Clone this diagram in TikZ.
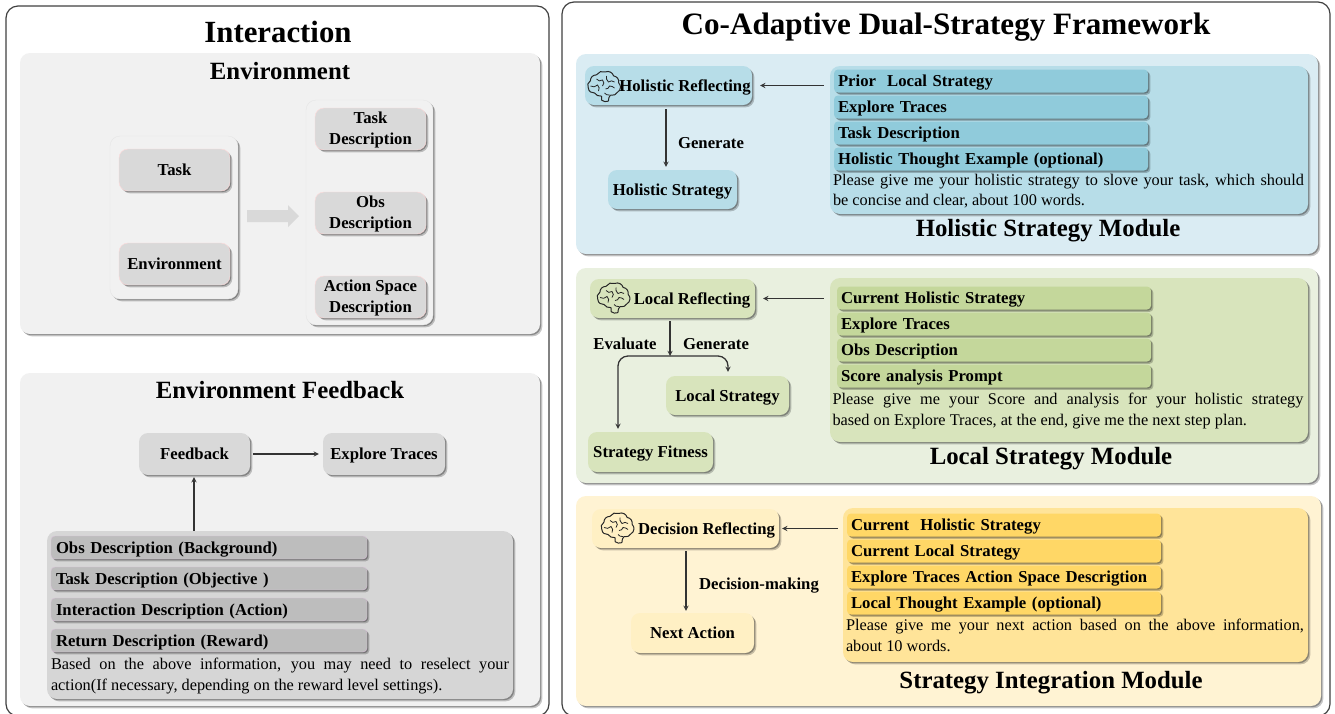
\documentclass[tikz,border=0pt]{standalone}
\usepackage{fontspec}
\setmainfont{Liberation Serif}
\usetikzlibrary{shadows}
\definecolor{graypanel}{HTML}{F1F1F1}
\definecolor{graycard}{HTML}{D9D9D9}
\definecolor{graybox}{HTML}{D6D6D6}
\definecolor{graybar}{HTML}{BDBDBD}
\definecolor{bluepanel}{HTML}{DAECF3}
\definecolor{bluebox}{HTML}{B7DDE8}
\definecolor{bluebar}{HTML}{90CBDB}
\definecolor{greenpanel}{HTML}{E9F0DF}
\definecolor{greenbox}{HTML}{D8E4BC}
\definecolor{greenbar}{HTML}{C4D79B}
\definecolor{yellowpanel}{HTML}{FFF3D3}
\definecolor{yellowbox}{HTML}{FFE499}
\definecolor{yellowbar}{HTML}{FFD766}
\definecolor{yellowcard}{HTML}{FFF0C4}
\begin{document}
\begin{tikzpicture}[
    x=1pt, y=-1pt,
    outer/.style={rectangle, draw=black!75, line width=1.2pt, fill=white, rounded corners=12pt},
    softshadow/.style={
        drop shadow={shadow xshift=2.4pt, shadow yshift=-2.4pt, opacity=0.22, fill=black},
        drop shadow={shadow xshift=1.2pt, shadow yshift=-1.2pt, opacity=0.3, fill=black}},
    panel/.style={rectangle, fill=#1, rounded corners=10pt, softshadow, inner sep=0pt},
    card/.style={rectangle, fill=#1, rounded corners=9pt, softshadow, inner sep=0pt, text depth=0pt, align=center, font=\fontsize{16.7}{21}\selectfont\bfseries},
    bar/.style={rectangle, fill=#1, rounded corners=4pt, softshadow, inner sep=0pt, minimum width=314pt, minimum height=23pt, text width=306pt, text height=13pt, text depth=1.5pt, align=left, font=\fontsize{16.7}{20}\selectfont\bfseries},
    bodytext/.style={inner sep=0pt, align=justify, font=\fontsize{16.3}{20.7}\selectfont},
    heading/.style={inner sep=0pt, text depth=0pt, font=\fontsize{#1}{#1}\selectfont\bfseries},
    edgelabel/.style={inner sep=0pt, text depth=0pt, font=\fontsize{16.7}{20}\selectfont\bfseries},
    arr/.style={->, >=stealth, line width=1.3pt, draw=black!80}
]
    \useasboundingbox (0,0) rectangle (1335,713);
    \tikzset{brainicon/.pic={
        \draw[line width=1pt, black!85, rounded corners=0.5pt]
            (-9,6) to[bend left=50] (-15,1) to[bend left=50] (-13,-6) to[bend left=50] (-7,-12)
            to[bend left=40] (2,-15) to[bend left=50] (10,-11) to[bend left=50] (15,-4)
            to[bend left=60] (14,5) to[bend left=40] (7,8) to[bend right=20] (5,14)
            to[bend left=30] (-2,13) to[bend right=10] (-2,9) to[bend left=30] (-9,6);
        \draw[line width=0.8pt, black!85] (-13,-1) to[bend right=40] (-6,-2) to[bend left=40] (-5,4);
        \draw[line width=0.8pt, black!85] (-7,-8) to[bend right=50] (-1,-7) to[bend left=50] (-1,-1);
        \draw[line width=0.8pt, black!85] (3,-11) to[bend right=30] (5,-5) to[bend left=40] (11,-5);
        \draw[line width=0.8pt, black!85] (2,2) to[bend right=40] (6,-1) to[bend left=20] (11,1);
        \draw[line width=0.8pt, black!85] (1,6) to[bend right=30] (6,8);
    }}

    % Outer frames
    \node[outer, minimum width=543pt, minimum height=710pt] (interframe) at (277.5,361) {};
    \node[outer, minimum width=768pt, minimum height=714pt] (frameframe) at (946,359) {};
    \node[heading=30.8] (intertitle) at (278,32) {Interaction};
    \node[heading=31.1] (frametitle) at (946,24) {Co-Adaptive Dual-Strategy Framework};

    % Environment
    \node[panel=graypanel, minimum width=520pt, minimum height=281pt] (envpanel) at (280,193.5) {};
    \node[heading=24.8] (envtitle) at (280,71) {Environment};
    \node[panel=graypanel, draw=black!10, minimum width=128pt, minimum height=163pt] (envleft) at (174,217.5) {};
    \node[panel=graypanel, draw=black!10, minimum width=127pt, minimum height=225pt] (envright) at (369.5,212.5) {};
    \node[card=graycard, draw=red!15, minimum width=111pt, minimum height=42pt] (task) at (174.5,170) {Task};
    \node[card=graycard, draw=red!15, minimum width=111pt, minimum height=42pt] (environment) at (174.5,264) {Environment};
    \node[card=graycard, draw=red!15, text depth=2pt, minimum width=111pt, minimum height=42pt] (taskdesc) at (370.5,129) {Task\\Description};
    \node[card=graycard, draw=red!15, text depth=2pt, minimum width=111pt, minimum height=42pt] (obsdesc) at (370.5,213) {Obs\\Description};
    \node[card=graycard, draw=red!15, text depth=2pt, minimum width=111pt, minimum height=42pt] (actiondesc) at (370.5,297) {Action Space\\Description};
    \fill[graycard] (247,210) -- (288,210) -- (288,205) -- (299,216) -- (288,227) -- (288,222) -- (247,222) -- cycle;

    % Environment feedback
    \node[panel=graypanel, minimum width=520pt, minimum height=333pt] (fbpanel) at (280,539.5) {};
    \node[heading=24.8] (fbtitle) at (280,390) {Environment Feedback};
    \node[card=graycard, minimum width=111pt, minimum height=42pt] (feedback) at (194.5,454) {Feedback};
    \node[card=graycard, minimum width=122pt, minimum height=42pt] (fbtraces) at (384,454) {Explore Traces};
    \node[panel=graybox, minimum width=466pt, minimum height=168pt] (fbbox) at (280,615) {};
    \node[bar=graybar, draw=black!25!violet!25, minimum width=316pt] (fbobs) at (209,547.5) {Obs Description (Background)};
    \node[bar=graybar, draw=black!25!violet!25, minimum width=316pt] (fbgoal) at (209,578.5) {Task Description (Objective )};
    \node[bar=graybar, draw=black!25!violet!25, minimum width=316pt] (fbact) at (209,609.5) {Interaction Description (Action)};
    \node[bar=graybar, draw=black!25!violet!25, minimum width=316pt] (fbret) at (209,640.5) {Return Description (Reward)};
    \node[bodytext, text width=458pt] (fbtext) at (280,676) {Based on the above information, you may need to reselect your\linebreak action(If necessary, depending on the reward level settings).};
    \draw[arr, shorten >=2pt] ([xshift=-86pt]fbbox.north) -- ([xshift=-0.5pt]feedback.south);
    \draw[arr, shorten <=3pt, shorten >=4pt] (feedback) -- (fbtraces);

    % Holistic strategy module
    \node[panel=bluepanel, minimum width=742pt, minimum height=200pt] (holpanel) at (947,154) {};
    \node[panel=bluebox, minimum width=478pt, minimum height=148pt] (holbox) at (1069,140) {};
    \node[card=bluebox, minimum width=167pt, minimum height=39pt] (holreflect) at (668.5,85.5) {\hspace*{33pt}Holistic Reflecting};
    \node[card=bluebox, minimum width=129pt, minimum height=39pt] (holstrategy) at (672.5,189.5) {Holistic Strategy};
    \pic at (603.5,87) {brainicon};
    \node[bar=bluebar] (holprior) at (991,81) {Prior~~Local Strategy};
    \node[bar=bluebar] (holtraces) at (991,107) {Explore Traces};
    \node[bar=bluebar] (holtask) at (991,133) {Task Description};
    \node[bar=bluebar] (holexample) at (991,159) {Holistic Thought Example (optional)};
    \node[bodytext, text width=471pt] (holtext) at (1068.5,191) {Please give me your holistic strategy to slove your task, which should\linebreak be concise and clear, about 100 words.};
    \node[heading=24.8] (holtitle) at (1048,228) {Holistic Strategy Module};
    \node[edgelabel] (holgen) at (711,143) {Generate};
    \draw[arr, shorten <=6pt, shorten >=8pt] (holbox.west |- holreflect) -- (holreflect);
    \draw[arr, shorten <=4pt, shorten >=3pt] ([xshift=-2.5pt]holreflect.south) -- ([xshift=-6.5pt]holstrategy.north);

    % Local strategy module
    \node[panel=greenpanel, minimum width=742pt, minimum height=215pt] (locpanel) at (947,375.5) {};
    \node[panel=greenbox, minimum width=478pt, minimum height=164pt] (locbox) at (1069,360) {};
    \node[card=greenbox, minimum width=165pt, minimum height=39pt] (locreflect) at (672.5,298.5) {\hspace*{39pt}Local Reflecting};
    \node[card=greenbox, minimum width=123pt, minimum height=39pt] (locstrategy) at (727.5,395.5) {Local Strategy};
    \node[card=greenbox, minimum width=125pt, minimum height=40pt] (locfitness) at (650.5,452) {Strategy Fitness};
    \pic at (613,298.5) {brainicon};
    \node[bar=greenbar] (loccurrent) at (994,298) {Current Holistic Strategy};
    \node[bar=greenbar] (loctraces) at (994,324) {Explore Traces};
    \node[bar=greenbar] (locobs) at (994,350) {Obs Description};
    \node[bar=greenbar] (locscore) at (994,376) {Score analysis Prompt};
    \node[bodytext, text width=471pt] (loctext) at (1068,411) {Please give me your Score and analysis for your holistic strategy\linebreak based on Explore Traces, at the end, give me the next step plan.};
    \node[heading=24.8] (loctitle) at (1051,456) {Local Strategy Module};
    \node[edgelabel] (locevaluate) at (625,344) {Evaluate};
    \node[edgelabel] (locgen) at (716,344) {Generate};
    \coordinate (locsplit) at (670,356);
    \draw[arr, shorten <=3pt] ([xshift=-2.5pt]locreflect.south) -- (locsplit);
    \draw[arr, shorten <=6pt, shorten >=8pt] (locbox.west |- locreflect) -- (locreflect);
    \draw[arr, rounded corners=10pt, shorten >=3pt] (locsplit) -| ([xshift=-32.5pt]locfitness.north);
    \draw[arr, rounded corners=10pt, shorten >=4pt] (locsplit) -| ([xshift=0.5pt]locstrategy.north);

    % Strategy integration module
    \node[panel=yellowpanel, minimum width=745pt, minimum height=210pt] (intpanel) at (948.5,601) {};
    \node[panel=yellowbox, minimum width=465pt, minimum height=154pt] (intbox) at (1075.5,585) {};
    \node[card=yellowcard, minimum width=187pt, minimum height=39pt] (intreflect) at (685.5,528.5) {\hspace*{42pt}Decision Reflecting};
    \node[card=yellowcard, minimum width=123pt, minimum height=40pt] (intnext) at (692.5,633) {Next Action};
    \pic at (617,528.5) {brainicon};
    \node[bar=yellowbar] (intholistic) at (1004,525) {Current~~Holistic Strategy};
    \node[bar=yellowbar] (intlocal) at (1004,551) {Current Local Strategy};
    \node[bar=yellowbar] (inttraces) at (1004,577) {Explore Traces Action Space Descrigtion};
    \node[bar=yellowbar] (intexample) at (1004,603) {Local Thought Example (optional)};
    \node[bodytext, text width=458pt] (inttext) at (1075,635.5) {Please give me your next action based on the above information,\linebreak about 10 words.};
    \node[heading=24.8] (inttitle) at (1051,680) {Strategy Integration Module};
    \node[edgelabel] (intdecide) at (759,584) {Decision-making};
    \draw[arr, shorten <=5pt, shorten >=3pt] (intbox.west |- intreflect) -- (intreflect);
    \draw[arr, shorten <=3pt, shorten >=2pt] ([xshift=0.5pt]intreflect.south) -- ([xshift=-6.5pt]intnext.north);
\end{tikzpicture}
\end{document}
